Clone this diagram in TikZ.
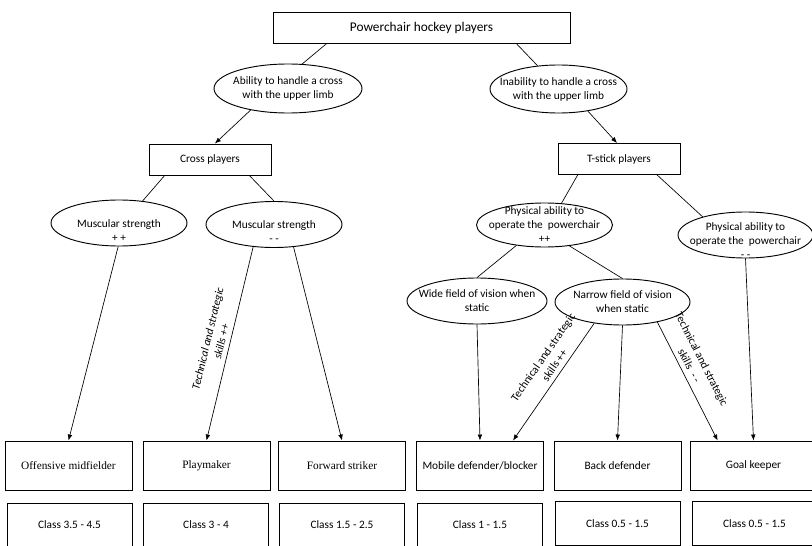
\documentclass[tikz,border=0pt]{standalone}
\usepackage{fontspec}
\setmainfont{Carlito}
\newfontfamily\timesfont{Liberation Serif}
\usetikzlibrary{shapes.geometric,calc,arrows.meta}

\begin{document}
\begin{tikzpicture}[x=0.75pt,y=-0.75pt,
  txt/.style={font=\fontsize{8.5}{10.5}\selectfont},
  box/.style={draw,line width=0.7pt,minimum height=23.25pt,txt},
  rolebox/.style={draw,line width=0.7pt,minimum width=95.25pt,minimum height=36.75pt,txt},
  serif/.style={font=\timesfont\fontsize{8.5}{10.5}\selectfont},
  classbox/.style={draw,line width=0.7pt,minimum width=93.75pt,minimum height=33pt,txt},
  crit/.style={draw,ellipse,line width=0.7pt,inner sep=-8pt,minimum width=102pt,minimum height=34.5pt,align=center,txt},
  link/.style={line width=0.5pt},
  arr/.style={line width=0.5pt,-{Latex[length=4.5pt,width=3.5pt]}},
  skill/.style={sloped,above,align=center,txt}]
\useasboundingbox (0,0) rectangle (812,545);
\clip (0,0) rectangle (812,545);
\node[box,minimum width=222.75pt,font=\fontsize{10}{12}\selectfont] (players) at (421.5,27.5) {Powerchair hockey players};
\node[crit,minimum width=111pt,minimum height=36.75pt] (cross) at (288,88.5) {Ability to handle a cross\\with the upper limb};
\node[crit,minimum width=102.75pt,minimum height=36pt] (nocross) at (558.5,89) {Inability to handle a cross\\with the upper limb};
\node[box,minimum width=91.5pt] (crossp) at (210,159.5) {Cross players};
\node[box,minimum width=91.5pt] (tstick) at (619,159) {T-stick players};
\node[crit] (strong) at (119,223) {\rule{0pt}{17pt}Muscular strength\\+ +};
\node[crit] (weak) at (274,224.5) {\rule{0pt}{17pt}Muscular strength\\- -};
\node[crit,minimum height=33pt] (mobile) at (544.5,225) {Physical ability to\\operate the~ powerchair\\++};
\node[crit,minimum width=101.25pt] (static) at (745.5,235) {\rule{0pt}{14pt}Physical ability to\\operate the~ powerchair\\- -};
\node[crit,minimum width=105pt] (wide) at (477,301) {Wide field of vision when\\static};
\node[crit,minimum width=101.25pt] (narrow) at (622.5,302) {Narrow field of vision\\when static};
% players' roles
\node[rolebox,serif] (offmid) at (68.5,465.5) {Offensive midfielder};
\node[rolebox,serif] (playmaker) at (206.5,465.5) {Playmaker};
\node[rolebox,serif] (striker) at (342,465.5) {Forward striker};
\node[rolebox] (blocker) at (480,465.5) {Mobile defender/blocker};
\node[rolebox] (backdef) at (617.5,465.5) {Back defender};
\node[rolebox] (keeper) at (753.5,465.5) {Goal keeper};
% classes
\node[classbox] (cl1) at (69.5,525) {Class 3.5 - 4.5};
\node[classbox] (cl2) at (206,525) {Class 3 - 4};
\node[classbox] (cl3) at (342,525) {Class 1.5 - 2.5};
\node[classbox] (cl4) at (480,525) {Class 1 - 1.5};
\node[classbox] (cl5) at (617.5,523.5) {Class 0.5 - 1.5};
\node[classbox] (cl6) at (754.5,523.5) {Class 0.5 - 1.5};
\draw[link] ($(players.south west)!0.182!(players.south east)$) -- (cross.60);
\draw[link] ($(players.south west)!0.818!(players.south east)$) -- (nocross.132);
\draw[arr] (cross.210) -- ($(crossp.north west)!0.54!(crossp.north east)$);
\draw[arr] (nocross.323) -- ($(tstick.north west)!0.484!(tstick.north east)$);
\draw[link] ($(crossp.south west)!0.131!(crossp.south east)$) -- (strong.43);
\draw[link] ($(crossp.south west)!0.82!(crossp.south east)$) -- (weak.north);
\draw[link] ($(tstick.south west)!0.164!(tstick.south east)$) -- (mobile.52);
\draw[link] ($(tstick.south west)!0.81!(tstick.south east)$) -- (static.157);
\draw[link] (mobile.216) -- (wide.north);
\draw[link] (mobile.320) -- (narrow.north);
\draw[arr] (strong.268) -- (offmid.north);
\draw[arr] (weak.227) -- node[skill,font=\fontsize{8.5}{10.5}\selectfont\itshape] {Technical and strategic\\skills ++} (playmaker.north);
\draw[arr] (weak.311) -- (striker.north);
\draw[arr] (wide.south) -- (blocker.north);
\draw[arr] (narrow.217) -- node[skill,pos=0.4] {Technical and strategic\\skills ++} ($(blocker.north west)!0.758!(blocker.north east)$);
\draw[arr] (narrow.south) -- (backdef.north);
\draw[arr] (narrow.330) -- node[skill,pos=0.4] {Technical and strategic\\skills~ - -} ($(keeper.north west)!0.22!(keeper.north east)$);
\draw[arr] (static.south) -- (keeper.north);
\end{tikzpicture}
\end{document}
